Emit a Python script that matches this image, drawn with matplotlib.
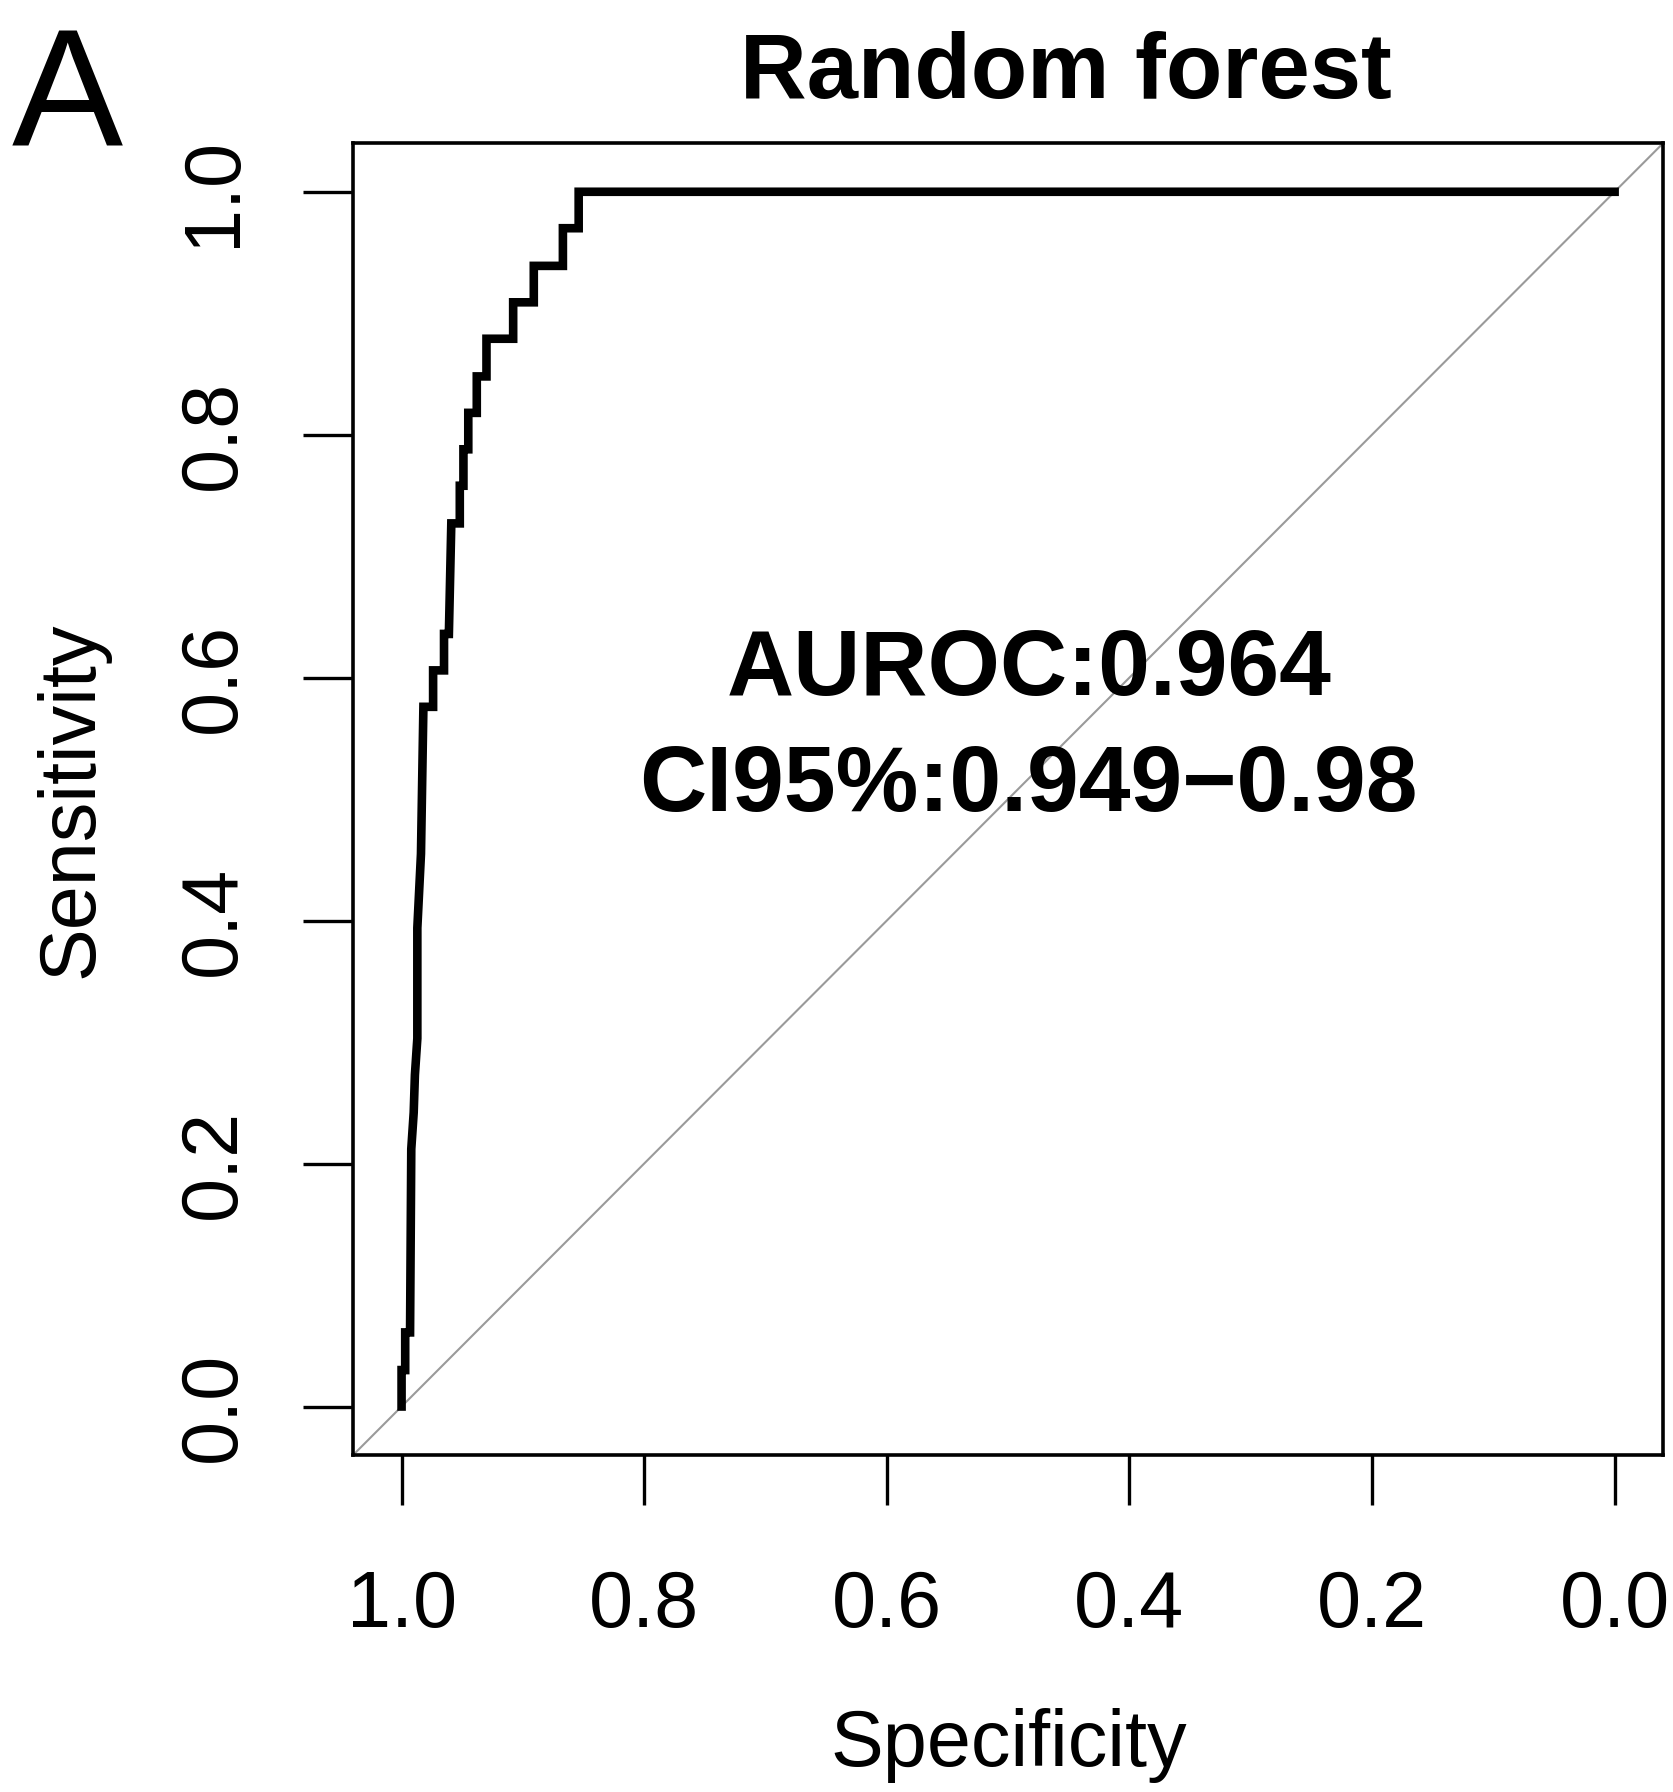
import matplotlib.pyplot as plt

# ROC curve vertices (specificity, sensitivity)
spec = [1.000, 1.000, 0.997, 0.997, 0.993, 0.992, 0.990, 0.989, 0.987, 0.987,
        0.984, 0.982, 0.974, 0.974, 0.965, 0.965, 0.961, 0.959, 0.952, 0.952,
        0.949, 0.949, 0.945, 0.945, 0.938, 0.938, 0.930, 0.930, 0.908, 0.908,
        0.891, 0.891, 0.867, 0.867, 0.854, 0.854, 0.000]
sens = [0.000, 0.030, 0.030, 0.061, 0.061, 0.212, 0.242, 0.273, 0.303, 0.394,
        0.455, 0.576, 0.576, 0.606, 0.606, 0.636, 0.636, 0.727, 0.727, 0.758,
        0.758, 0.788, 0.788, 0.818, 0.818, 0.848, 0.848, 0.879, 0.879, 0.909,
        0.909, 0.939, 0.939, 0.970, 0.970, 1.000, 1.000]

tick_vals = [0.0, 0.2, 0.4, 0.6, 0.8, 1.0]
tick_labels = ['0.0', '0.2', '0.4', '0.6', '0.8', '1.0']

panel = 'A'
title = 'Random forest'
auc_text = 'AUROC:0.964'
ci_text = 'CI95%:0.949\u22120.98'

plt.rcParams['font.family'] = ['Liberation Sans', 'DejaVu Sans']

fig = plt.figure(figsize=(16.74, 17.92), dpi=100)
ax = fig.add_axes([0.2109, 0.1880, 0.7826, 0.7321])

ax.axline((1, 0), (0, 1), color='#9a9a9a', linewidth=1.5)
ax.plot(spec, sens, color='black', linewidth=6.2, solid_joinstyle='miter')

ax.set_xlim(1.04, -0.04)
ax.set_ylim(-0.04, 1.04)
ax.set_xticks(tick_vals)
ax.set_xticklabels(tick_labels)
ax.set_yticks(tick_vals)
ax.set_yticklabels(tick_labels, rotation=90, va='center')
ax.tick_params(length=36, width=2.4, labelsize=57)
ax.tick_params(axis='x', pad=46)
ax.tick_params(axis='y', pad=37)
for s in ax.spines.values():
    s.set_linewidth(2.6)

ax.text(0.483, 0.6055, auc_text, ha='center', va='center',
        fontsize=67, fontweight='bold')
ax.text(0.483, 0.510, ci_text, ha='center', va='center',
        fontsize=67, fontweight='bold')

fig.text(0.637, 0.9587, title, ha='center', va='center',
         fontsize=66.5, fontweight='bold')
fig.text(0.040, 0.942, panel, ha='center', va='center', fontsize=120)
fig.text(0.043, 1 - 800 / 1792, 'Sensitivity', rotation=90,
         ha='center', va='center', fontsize=57)
fig.text(1009 / 1674, 1 - 1745 / 1792, 'Specificity',
         ha='center', va='center', fontsize=57)

fig.savefig('out.png', dpi=100)
